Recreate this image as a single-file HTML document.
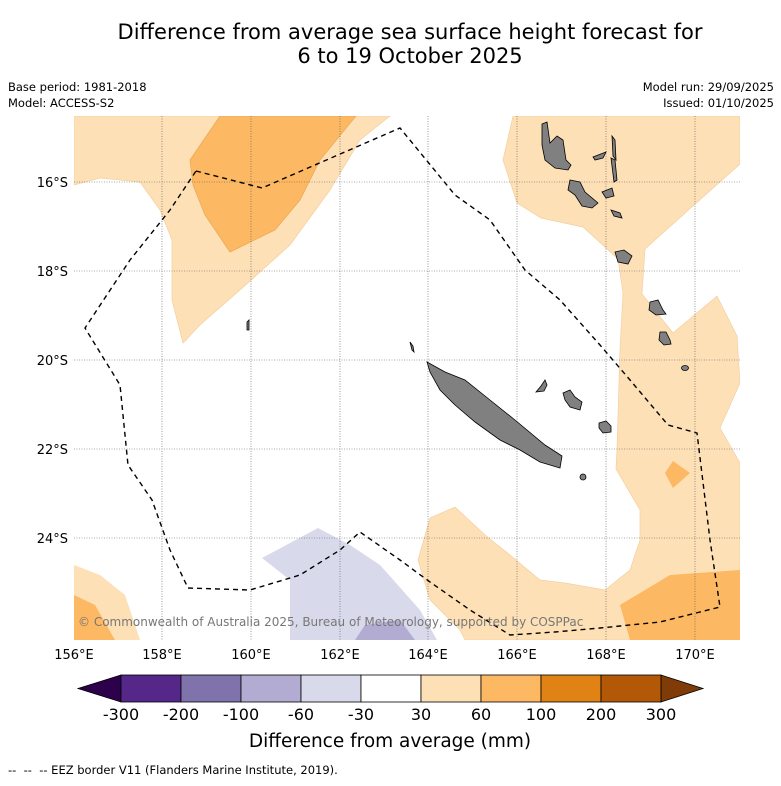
<!DOCTYPE html>
<html><head><meta charset="utf-8"><style>
body{margin:0;background:#fff;font-family:"Liberation Sans",sans-serif}
svg text{font-family:"DejaVu Sans","Liberation Sans",sans-serif}
</style></head><body>
<svg id="chart" width="781" height="781" viewBox="0 0 781 781">
<text x="410" y="39" font-size="21" text-anchor="middle">Difference from average sea surface height forecast for</text>
<text x="410" y="63" font-size="21" text-anchor="middle">6 to 19 October 2025</text>
<text x="8" y="91" font-size="11.5">Base period: 1981-2018</text>
<text x="8" y="107" font-size="11.5">Model: ACCESS-S2</text>
<text x="774" y="91" font-size="11.5" text-anchor="end">Model run: 29/09/2025</text>
<text x="774" y="107" font-size="11.5" text-anchor="end">Issued: 01/10/2025</text>
<defs><clipPath id="mc"><rect x="74" y="116" width="666" height="524"/></clipPath></defs>
<g clip-path="url(#mc)">
<path fill="#fee0b6" stroke="#f3cfa0" stroke-width="0.7" d="M74,116 L390,116 L360,140 L330,190 L290,245 L240,290 L200,325 L183,343 L172,300 L172,240 L160,210 L140,182 L100,178 L74,185 Z"/>
<path fill="#fdb863" stroke="#eaa650" stroke-width="0.7" d="M220,116 L356,116 L320,160 L300,200 L275,230 L230,252 L205,215 L193,185 L190,160 Z"/>
<path fill="#fee0b6" stroke="#f3cfa0" stroke-width="0.7" d="M513,116 L740,116 L740,164 L693,206 L645,249 L642,294 L673,333 L717,296 L737,336 L740,383 L720,428 L740,463 L740,640 L465,640 L460,630 L430,600 L418,560 L430,518 L455,507 L485,535 L510,555 L540,580 L565,583 L605,590 L630,570 L640,540 L640,510 L616,469 L617,449 L620,349 L623,293 L618,259 L583,227 L541,218 L517,203 L503,160 Z"/>
<path fill="#fdb863" d="M673,461 L690,473 L673,488 L665,473 Z"/>
<path fill="#fdb863" d="M620,605 L670,575 L740,570 L740,640 L630,640 Z"/>
<path fill="#fee0b6" d="M74,565 L100,575 L125,595 L140,640 L74,640 Z"/>
<path fill="#fdb863" d="M74,595 L95,605 L115,640 L74,640 Z"/>
<path fill="#d8daeb" d="M262,558 L318,528 L350,545 L380,565 L420,610 L437,640 L290,640 L290,580 Z"/>
<path fill="#b2abd2" d="M355,640 L365,625 L400,620 L415,640 Z"/>
<g stroke="#555" stroke-width="0.6" stroke-dasharray="1,1.5">
<line x1="162" y1="116" x2="162" y2="640"/><line x1="251" y1="116" x2="251" y2="640"/><line x1="340" y1="116" x2="340" y2="640"/><line x1="428" y1="116" x2="428" y2="640"/><line x1="517" y1="116" x2="517" y2="640"/><line x1="606" y1="116" x2="606" y2="640"/><line x1="695" y1="116" x2="695" y2="640"/>
<line x1="74" y1="182" x2="740" y2="182"/><line x1="74" y1="271" x2="740" y2="271"/><line x1="74" y1="360" x2="740" y2="360"/><line x1="74" y1="449" x2="740" y2="449"/><line x1="74" y1="538" x2="740" y2="538"/>
</g>
<g fill="#808080" stroke="#000" stroke-width="0.8">
<path d="M427,362 L445,372 L465,380 L490,400 L515,420 L545,445 L562,456 L560,468 L540,462 L520,450 L500,440 L475,422 L455,405 L440,390 L430,372 Z"/>
<path d="M542,124 L547,122 L550,143 L557,136 L563,140 L566,160 L571,165 L568,170 L555,168 L545,160 L542,145 Z"/>
<path d="M570,180 L580,182 L585,192 L598,203 L592,208 L582,206 L575,195 L568,190 Z"/>
<path d="M612,136 L615,140 L616,160 L613,156 Z"/><path d="M611,158 L615,160 L617,180 L614,182 Z"/>
<path d="M593,157 L606,152 L603,158 L595,160 Z"/><path d="M602,192 L612,188 L614,196 L606,198 Z"/>
<path d="M611,210 L620,213 L622,218 L614,216 Z"/>
<path d="M615,252 L624,250 L632,256 L628,264 L618,262 Z"/>
<path d="M650,302 L658,300 L663,310 L666,314 L656,315 L649,310 Z"/>
<path d="M660,332 L666,332 L670,340 L671,344 L664,345 L659,340 Z"/>
<ellipse cx="685" cy="368" rx="3.5" ry="2.5"/>
<path d="M563,393 L570,390 L575,397 L582,402 L580,410 L570,407 L565,400 Z"/>
<path d="M599,423 L606,421 L611,426 L611,432 L603,433 L599,428 Z"/>
<path d="M536,392 L541,386 L545,380 L547,385 L544,391 Z"/>
<ellipse cx="583" cy="477" rx="3" ry="3"/>
<path d="M247,322 L249,320 L249,330 L247,330 Z"/>
<path d="M410,342 L413,346 L414,352 L412,350 Z"/>
</g>
<path fill="none" stroke="#000" stroke-width="1.4" stroke-dasharray="5,4" d="M196,171 L262,188 L400,128 L455,195 L490,220 L525,270 L560,300 L600,345 L630,380 L668,425 L697,433 L710,540 L720,607 L660,622 L600,628 L555,632 L510,635 L470,610 L430,582 L400,560 L360,532 L340,550 L300,575 L250,590 L188,588 L170,550 L152,500 L128,465 L120,385 L85,328 L130,260 L170,210 Z"/>
<text x="78" y="626" font-size="12" fill="#777">© Commonwealth of Australia 2025, Bureau of Meteorology, supported by COSPPac</text>
</g>
<g font-size="13">
<text x="68" y="187" text-anchor="end">16°S</text><text x="68" y="276" text-anchor="end">18°S</text><text x="68" y="365" text-anchor="end">20°S</text><text x="68" y="454" text-anchor="end">22°S</text><text x="68" y="543" text-anchor="end">24°S</text>
</g>
<g font-size="13" text-anchor="middle">
<text x="74" y="659">156°E</text><text x="162" y="659">158°E</text><text x="251" y="659">160°E</text><text x="340" y="659">162°E</text><text x="428" y="659">164°E</text><text x="517" y="659">166°E</text><text x="606" y="659">168°E</text><text x="695" y="659">170°E</text>
</g>
<g id="cbar"></g>
<text x="390" y="747" font-size="18.5" text-anchor="middle">Difference from average (mm)</text>
<text x="8" y="774" font-size="11.5">-- &#160;-- &#160;-- EEZ border V11 (Flanders Marine Institute, 2019).</text>
</svg>
<script>
const bins = ["-300..-200","-200..-100","-100..-60","-60..-30","-30..30","30..60","60..100","100..200","200..300"];
const binColors = ["#542788","#8073ac","#b2abd2","#d8daeb","#ffffff","#fee0b6","#fdb863","#e08214","#b35806"];
const tickLabels = ["-300","-200","-100","-60","-30","30","60","100","200","300"];
const NS="http://www.w3.org/2000/svg";
const g=document.getElementById('cbar');
const x0=121,w=60,y0=675,h=27;
function mk(t,a){const e=document.createElementNS(NS,t);for(const k in a)e.setAttribute(k,a[k]);g.appendChild(e);return e;}
const lt=mk('polygon',{points:`${x0},${y0} ${x0},${y0+h} 78,${y0+h/2}`,fill:'#2d004b',stroke:'#000','stroke-width':0.8});


const rt=mk('polygon',{points:`${x0+w*bins.length},${y0} ${x0+w*bins.length},${y0+h} 703,${y0+h/2}`,fill:'#7f3b08',stroke:'#000','stroke-width':0.8});


bins.forEach((b,i)=>{
  const r=mk('rect',{x:x0+i*w,y:y0,width:w,height:h,fill:binColors[i],stroke:'#000','stroke-width':0.8});
  
  
});
tickLabels.forEach((t,i)=>{
  const e=mk('text',{x:x0+i*w,y:720,'font-size':16,'text-anchor':'middle'});
  e.textContent=t;
  
  
});
</script>
</body></html>
